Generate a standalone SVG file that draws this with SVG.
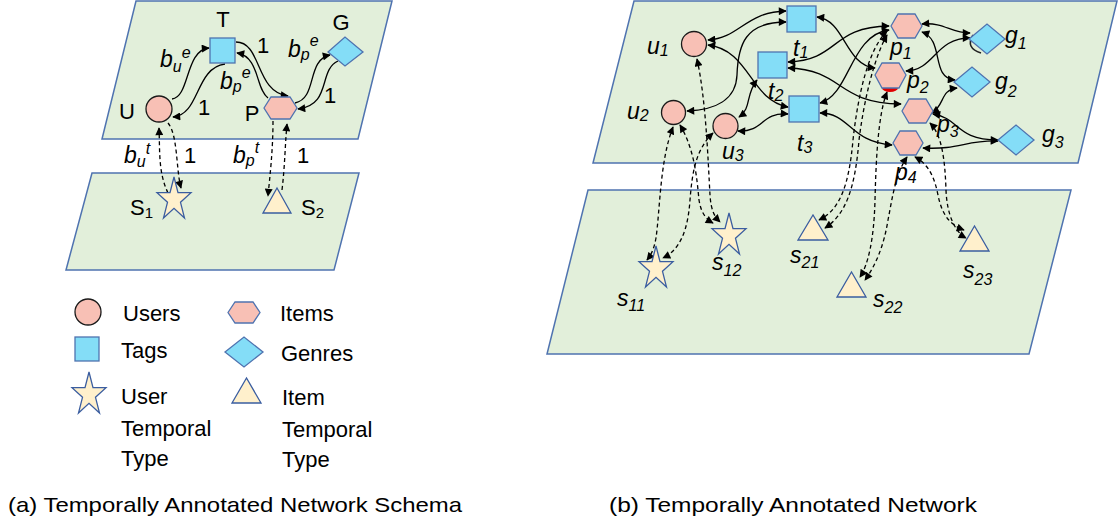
<svg xmlns="http://www.w3.org/2000/svg" xmlns:xlink="http://www.w3.org/1999/xlink" width="1118" height="526" viewBox="0 0 1118 526">
<style>
.panel{fill:#E2EFDA;stroke:#4F73B0;stroke-width:1.5}
.user{fill:#F8C0B5;stroke:#1a1a1a;stroke-width:1.3}
.item{fill:#F8C0B5;stroke:#4F73B0;stroke-width:1.3}
.tag{fill:#84DDF7;stroke:#4F73B0;stroke-width:1.3}
.temp{fill:#FFF0CC;stroke:#3A5DA0;stroke-width:1.3}
.e{fill:none;stroke:#000;stroke-width:1.3}
.d{stroke-dasharray:4 3}
.one{marker-end:url(#ah)}
.two{marker-start:url(#ah);marker-end:url(#ah)}
text{font-family:"Liberation Sans",Arial,sans-serif;fill:#000}
.lb{font-size:22px}
.it{font-size:23px;font-style:italic}
.sm{font-size:16px}
.cap{font-size:21px}
</style>
<defs>
<marker id="ah" viewBox="0 0 10 10" refX="9" refY="5" markerWidth="9" markerHeight="8" orient="auto-start-reverse" markerUnits="userSpaceOnUse"><path d="M0,0 L10,5 L0,10 Z" fill="#000"/></marker>
<path id="star" d="M17,0 L21,15.7 L34,15.7 L23.5,25.3 L27.5,41 L17,31.3 L6.5,41 L10.5,25.3 L0,15.7 L13,15.7 Z"/>
</defs>

<!-- panels -->
<g id="panels">
<polygon class="panel" points="136,1 392,1 358,139 102,139"/>
<polygon class="panel" points="92,173 359,173 334,270 66,270"/>
<polygon class="panel" points="634,1 1117,1 1078,163 593,163"/>
<polygon class="panel" points="588,190 1071,190 1029,354 547,354"/>
</g>

<!-- connectors -->
<g id="connectors">
<!-- schema (a) -->
<path class="e one" d="M172,99 C190,97 185,50 209,48"/>
<path class="e one" d="M225,64 C195,68 200,115 173,117"/>
<path class="e one" d="M236,42 C262,42 255,92 288,96"/>
<path class="e one" d="M268,98 C255,88 260,57 237,53"/>
<path class="e one" d="M295,103 C318,98 306,60 330,55"/>
<path class="e one" d="M338,61 C318,70 332,105 298,109"/>
<path class="e d one" d="M168,193 C158,172 160,150 159,128"/>
<path class="e d one" d="M168,123 C178,135 176,170 181,188"/>
<path class="e d one" d="M273,121 C273,150 270,175 268,196"/>
<path class="e d one" d="M282,190 C285,165 285,145 287,124"/>
<!-- network (b) solid -->
<path class="e two" d="M708,40 C740,38 745,12 786,11"/>
<path class="e two" d="M786,22 C745,22 738,45 737,75 C736,100 715,110 687,111"/>
<path class="e two" d="M708,45 C750,50 750,100 788,107"/>
<path class="e two" d="M757,80 C745,95 752,108 739,117"/>
<path class="e two" d="M788,114 C760,112 765,132 738,131"/>
<path class="e two" d="M817,17 C845,20 845,65 875,68"/>
<path class="e two" d="M788,62 C840,60 830,27 889,26"/>
<path class="e two" d="M788,68 C845,70 835,103 901,104"/>
<path class="e two" d="M820,103 C850,95 850,35 889,30"/>
<path class="e two" d="M820,113 C850,113 850,142 892,145"/>
<path class="e two" d="M922,24 C945,22 950,33 970,33"/>
<path class="e two" d="M906,71 C935,70 935,38 970,38"/>
<path class="e two" d="M922,32 C945,40 930,78 955,80"/>
<path class="e two" d="M932,113 C945,105 940,90 957,88"/>
<path class="e two" d="M933,114 C960,118 955,140 998,140"/>
<path class="e two" d="M923,148 C960,150 965,140 998,141"/>
<!-- network (b) dashed -->
<path class="e d two" d="M697,59 C706,100 708,160 710,195 C711,210 714,216 720,222"/>
<path class="e d two" d="M680,125 C695,150 697,180 699,200 C701,213 706,219 713,223"/>
<path class="e d two" d="M673,127 C660,160 660,210 656,238 C654,249 651,255 647,260"/>
<path class="e d two" d="M713,133 C695,150 692,175 690,200 C688,230 680,250 663,258"/>
<path class="e d two" d="M887,31 C868,50 858,95 853,140 C849,185 840,210 819,220"/>
<path class="e d two" d="M887,35 C874,58 864,100 859,140 C855,190 845,215 825,228"/>
<path class="e d two" d="M887,92 C878,115 876,160 875,200 C874,240 868,265 860,277"/>
<path class="e d two" d="M907,157 C895,175 892,200 888,220 C884,245 876,265 865,280"/>
<path class="e d two" d="M915,157 C930,165 935,180 938,195 C942,215 950,225 964,230"/>
<path class="e d two" d="M930,123 C942,135 945,160 946,190 C947,215 955,232 966,238"/>
</g>

<!-- schema (a) nodes -->
<g id="node-T"><rect class="tag" x="210" y="38" width="25" height="25"/><text class="lb" x="223" y="27" text-anchor="middle">T</text></g>
<g id="node-G"><polygon class="tag" points="328,52 345,37 363,52 345,66"/><text class="lb" x="341" y="30" text-anchor="middle">G</text></g>
<g id="node-U"><circle class="user" cx="159" cy="109" r="13"/><text class="lb" x="127" y="119" text-anchor="middle">U</text></g>
<g id="node-P"><polygon class="item" points="264,108 271,97 290,97 297,108 290,119 271,119"/><text class="lb" x="252" y="121" text-anchor="middle">P</text></g>
<g id="node-S1"><use href="#star" x="157" y="177" class="temp"/><text class="lb" x="130" y="215">S<tspan font-size="15" dy="3">1</tspan></text></g>
<g id="node-S2"><polygon class="temp" points="263,213 277,188 291,213"/><text class="lb" x="301" y="215">S<tspan font-size="15" dy="3">2</tspan></text></g>

<g id="schema-labels">
<text class="it" x="160" y="67">b<tspan class="sm" dy="5">u</tspan><tspan class="sm" dy="-14">e</tspan></text>
<text class="it" x="220" y="89">b<tspan class="sm" dy="3">p</tspan><tspan class="sm" dy="-14">e</tspan></text>
<text class="it" x="288" y="57">b<tspan class="sm" dy="3">p</tspan><tspan class="sm" dy="-14">e</tspan></text>
<text class="it" x="124" y="163">b<tspan class="sm" dy="4">u</tspan><tspan class="sm" dy="-13">t</tspan></text>
<text class="it" x="233" y="163">b<tspan class="sm" dy="3">p</tspan><tspan class="sm" dy="-13">t</tspan></text>
<text class="lb" x="263" y="53" text-anchor="middle">1</text>
<text class="lb" x="204" y="115" text-anchor="middle">1</text>
<text class="lb" x="330" y="103" text-anchor="middle">1</text>
<text class="lb" x="190" y="163" text-anchor="middle">1</text>
<text class="lb" x="303" y="163" text-anchor="middle">1</text>
</g>

<!-- legend -->
<g id="legend">
<circle class="user" cx="88" cy="312" r="13"/><text class="lb" x="123" y="321">Users</text>
<polygon class="item" points="228,312.5 235,302 253,302 260,312.5 253,323 235,323"/><text class="lb" x="280" y="321">Items</text>
<rect class="tag" x="75" y="337" width="24" height="24"/><text class="lb" x="121" y="358">Tags</text>
<polygon class="tag" points="225,352 244,337 263,352 244,367"/><text class="lb" x="281" y="361">Genres</text>
<use href="#star" x="72" y="372" class="temp"/>
<text class="lb" x="121" y="404">User</text><text class="lb" x="121" y="436">Temporal</text><text class="lb" x="121" y="466">Type</text>
<polygon class="temp" points="232,403 246.5,378 261,403"/>
<text class="lb" x="282" y="405">Item</text><text class="lb" x="282" y="437">Temporal</text><text class="lb" x="282" y="467">Type</text>
</g>

<!-- network (b) nodes -->
<g id="node-u1"><circle class="user" cx="694" cy="44" r="12.5"/><text class="it" x="647" y="54">u<tspan class="sm" dy="2">1</tspan></text></g>
<g id="node-u2"><circle class="user" cx="673.5" cy="112.5" r="12"/><text class="it" x="627" y="119">u<tspan class="sm" dy="2">2</tspan></text></g>
<g id="node-u3"><circle class="user" cx="725.5" cy="126" r="12.5"/><text class="it" x="722" y="159">u<tspan class="sm" dy="2">3</tspan></text></g>
<g id="node-t1"><rect class="tag" x="787" y="6" width="29" height="26"/><text class="it" x="793" y="56">t<tspan class="sm" dy="2">1</tspan></text></g>
<g id="node-t2"><rect class="tag" x="758" y="52" width="29" height="26"/><text class="it" x="768" y="99">t<tspan class="sm" dy="2">2</tspan></text></g>
<g id="node-t3"><rect class="tag" x="789" y="96" width="30" height="26"/><text class="it" x="797" y="151">t<tspan class="sm" dy="2">3</tspan></text></g>
<g id="node-p1"><polygon class="item" points="891,26 898,14 915,14 922,26 915,38 898,38"/><text class="it" x="890" y="55">p<tspan class="sm" dy="4">1</tspan></text></g>
<g id="node-p2"><ellipse cx="890" cy="88" rx="8" ry="4" fill="#E00000"/><polygon class="item" points="875,75 882,63 899,63 906,75 899,88 882,88"/><text class="it" x="907" y="88">p<tspan class="sm" dy="5">2</tspan></text></g>
<g id="node-p3"><polygon class="item" points="902,111 909,99 926,99 933,111 926,123 909,123"/><text class="it" x="937" y="132">p<tspan class="sm" dy="5">3</tspan></text></g>
<g id="node-p4"><polygon class="item" points="893,143 900,131 916,131 923,143 916,155 900,155"/><text class="it" x="895" y="180">p<tspan class="sm" dy="3">4</tspan></text></g>
<g id="node-g1"><path d="M973,35 Q965,48 981,53" fill="none" stroke="#222" stroke-width="1.6"/><polygon class="tag" points="969,39 987,24 1005,39 987,54"/><text class="it" x="1005" y="43">g<tspan class="sm" dy="6">1</tspan></text></g>
<g id="node-g2"><polygon class="tag" points="954,82 972,67 990,82 972,97"/><text class="it" x="995" y="89">g<tspan class="sm" dy="8">2</tspan></text></g>
<g id="node-g3"><polygon class="tag" points="998,140 1016,125 1034,140 1016,155"/><text class="it" x="1042" y="142">g<tspan class="sm" dy="6">3</tspan></text></g>
<g id="node-s11"><use href="#star" x="639" y="246" class="temp"/><text class="it" x="617" y="306">s<tspan class="sm" dy="5">11</tspan></text></g>
<g id="node-s12"><use href="#star" x="712" y="213" class="temp"/><text class="it" x="712" y="270">s<tspan class="sm" dy="6">12</tspan></text></g>
<g id="node-s21"><polygon class="temp" points="798,240 813,215 828,240"/><text class="it" x="790" y="263">s<tspan class="sm" dy="5">21</tspan></text></g>
<g id="node-s22"><polygon class="temp" points="837,297 851.5,272 866,297"/><text class="it" x="873" y="307">s<tspan class="sm" dy="6">22</tspan></text></g>
<g id="node-s23"><polygon class="temp" points="960,251 974.5,226 989,251"/><text class="it" x="963" y="278">s<tspan class="sm" dy="7">23</tspan></text></g>

<!-- captions -->
<text class="cap" x="8" y="512" textLength="454" lengthAdjust="spacingAndGlyphs">(a) Temporally Annotated Network Schema</text>
<text class="cap" x="609" y="512" textLength="368" lengthAdjust="spacingAndGlyphs">(b) Temporally Annotated Network</text>
</svg>
